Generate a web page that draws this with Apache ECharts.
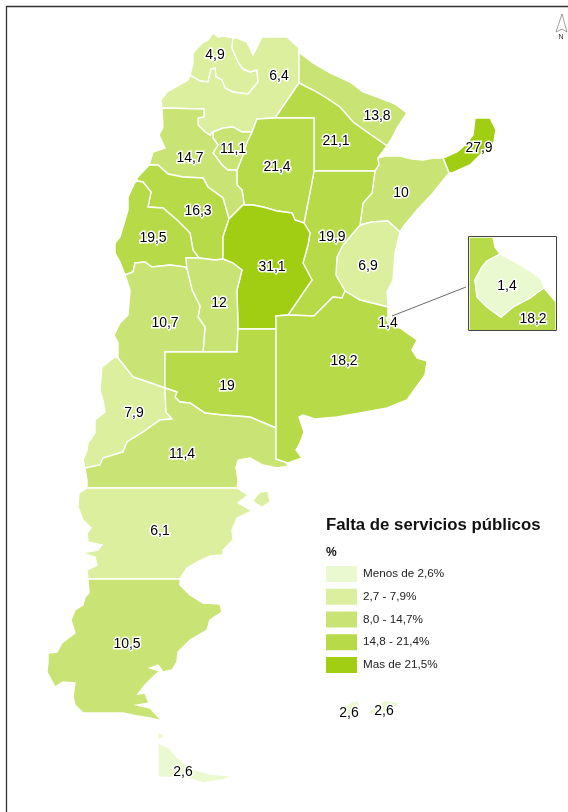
<!DOCTYPE html>
<html>
<head>
<meta charset="utf-8">
<title>Falta de servicios públicos</title>
<script src="https://cdn.jsdelivr.net/npm/echarts@6/dist/echarts.min.js"></script>
<style>
  html, body { margin: 0; padding: 0; background: #fff; }
  #chart { width: 568px; height: 812px; }
</style>
</head>
<body>
<div id="chart"></div>
<script>
// datos del mapa: % por provincia
const provinces = ['Jujuy', 'Salta', 'Formosa', 'Chaco', 'Misiones', 'Corrientes', 'Entre Ríos', 'Santa Fe',
  'Santiago del Estero', 'Tucumán', 'Catamarca', 'La Rioja', 'San Juan', 'Córdoba', 'San Luis', 'Mendoza',
  'La Pampa', 'Neuquén', 'Río Negro', 'Buenos Aires', 'CABA', 'Chubut', 'Santa Cruz', 'Tierra del Fuego',
  'Malvinas Oeste', 'Malvinas Este', 'Buenos Aires (detalle)', 'CABA (detalle)']
const values = [4.9, 6.4, 13.8, 21.1, 27.9, 10, 6.9, 19.9,
  21.4, 11.1, 14.7, 16.3, 19.5, 31.1, 12, 10.7,
  19, 7.9, 11.4, 18.2, 1.4, 6.1, 10.5, 2.6,
  2.6, 2.6, 18.2, 1.4]
const classLabels = ['Menos de 2,6%', '2,7 - 7,9%', '8,0 - 14,7%', '14,8 - 21,4%', 'Mas de 21,5%']
const classUpper = [2.6, 7.9, 14.7, 21.4, 100]
const classColors = ['#EAF9CF', '#DCEF9F', '#C9E374', '#B6DA48', '#A1CE13']

// limites compartidos entre provincias (trazados a mano sobre la imagen)
const rev = (s) => s.slice().reverse()
const jujuySalta = [[233,38],[232,48],[238,62],[243,69],[250,72],[257,70],[258,82],[248,94],[233,92],[225,88],[222,80],[216,77],[215,68],[211,69],[208,82],[200,81],[190,75]]
const saltaChaco = [[299,83],[275,118]]
const saltaSantiago = [[275,118],[257,119],[252,132]]
const saltaTucuman = [[252,132],[242,132],[233,127],[223,128],[213,132]]
const saltaCat = [[213,132],[210,135],[205,132],[198,125],[198,118],[204,117],[204,109],[162,108]]
const catRioja = [[149,165],[158,165],[168,174],[183,177],[203,178],[208,187],[223,198],[229,219]]
const catCordoba = [[229,219],[243,205]]
const catSantiago = [[243,205],[244,203],[242,190],[237,185],[237,170]]
const catTucuman = [[237,170],[228,170],[222,165],[213,153],[218,145],[213,138],[213,132]]
const tucSantiago = [[237,170],[243,155],[247,142],[252,132]]
const santChaco = [[275,118],[314,118],[314,171]]
const santSF = [[314,171],[313,177],[304,223]]
const santCordoba = [[304,223],[295,220],[292,213],[277,211],[263,207],[253,205],[243,205]]
const forChaco = [[387,146],[367,132],[353,122],[340,107],[325,97],[313,90],[299,83]]
const chacoCorr = [[378,158],[379,165],[375,171]]
const chacoSF = [[375,171],[314,171]]
const corrMis = [[443,158],[449,173]]
const corrER = [[400,232],[388,221],[372,222],[360,225]]
const corrSF = [[360,225],[363,203],[372,193],[375,171]]
const erBA = [[388,307],[360,300],[345,291]]
const erSF = [[345,291],[336,275],[337,257],[343,245],[360,225]]
const sfBA = [[345,291],[342,298],[333,297],[314,316],[288,315]]
const sfCordoba = [[288,315],[312,280],[303,263],[308,245],[310,233],[304,223]]
const cordBA = [[288,315],[276,316],[276,329]]
const cordPampa = [[276,329],[238,329]]
const cordSL = [[238,329],[237,290],[242,270],[233,263],[223,259]]
const cordRioja = [[223,259],[223,237],[229,219]]
const riojaSJ = [[137,181],[143,182],[151,192],[148,207],[163,208],[177,220],[190,233],[193,250],[199,258]]
const riojaSL = [[199,258],[215,260],[223,259]]
const sjMend = [[125,275],[133,272],[135,263],[145,262],[152,267],[170,265],[185,267],[187,269]]
const sjSL = [[187,269],[186,258],[199,258]]
const slPampa = [[238,329],[237,352],[203,352]]
const slMend = [[203,352],[205,327],[198,317],[200,306],[192,290],[187,269]]
const mendNeu = [[118,358],[133,377],[148,382],[165,388]]
const mendPampa = [[165,388],[165,352],[203,352]]
const pampaBA = [[276,329],[276,428]]
const pampaRN = [[276,428],[250,417],[223,415],[205,413],[190,403],[180,402],[175,397],[177,392],[165,388]]
const neuRN = [[85,468],[100,465],[103,458],[123,452],[127,442],[143,432],[160,420],[172,419]]
const neuRN2 = [[172,419],[166,412],[165,388]]
const baRN = [[276,428],[276,459]]

// contornos de cada provincia y punto de la etiqueta
const shapes = {
  'Jujuy': { cp: [215,55], rings: [[[190,75],[193,63],[193,53],[202,43],[208,40],[213,33],[218,37],[225,36], ...jujuySalta]] },
  'Salta': { cp: [279,76], rings: [[[233,38],[237,38],[247,42],[253,55],[262,37],[287,37],[299,48], ...saltaChaco, ...saltaSantiago.slice(1), ...saltaTucuman.slice(1), ...saltaCat.slice(1),
    [161,100],[167,92],[188,80], ...rev(jujuySalta)]] },
  'Formosa': { cp: [377,116], rings: [[[299,48],[300,53],[313,63],[330,73],[350,82],[363,92],[380,98],[395,104],[407,113],[397,128],[392,138], ...forChaco]] },
  'Chaco': { cp: [336,141], rings: [[...rev(forChaco), ...chacoCorr, ...chacoSF, ...rev(santChaco), ...rev(saltaChaco)]] },
  'Misiones': { cp: [479,148], rings: [[[443,158],[457,152],[465,145],[473,135],[475,118],[490,118],[496,130],[493,147],[482,153],[470,165],[452,173],[449,173]]] },
  'Corrientes': { cp: [401,193], rings: [[[378,158],[385,156],[400,156],[412,159],[423,160],[433,158], ...corrMis, [433,193],[417,210],[403,227], ...corrER, ...corrSF, ...rev(chacoCorr)]] },
  'Entre Ríos': { cp: [368,266], rings: [[...rev(corrER), [395,253],[393,280],[387,292], ...erBA, ...erSF]] },
  'Santa Fe': { cp: [332,237], rings: [[...rev(chacoSF), ...rev(corrSF), ...rev(erSF), ...sfBA, ...sfCordoba, ...rev(santSF)]] },
  'Santiago del Estero': { cp: [277,167], rings: [[...rev(saltaSantiago), ...santChaco, ...santSF, ...santCordoba, ...catSantiago, ...tucSantiago]] },
  'Tucumán': { cp: [233,149], rings: [[...tucSantiago, ...saltaTucuman, ...rev(catTucuman)]] },
  'Catamarca': { cp: [190,158], rings: [[[162,108],[163,127],[159,135],[165,148],[153,152], ...catRioja, ...catCordoba, ...catSantiago, ...catTucuman, ...saltaCat]] },
  'La Rioja': { cp: [198,211], rings: [[[149,165],[137,178], ...riojaSJ, ...riojaSL, ...cordRioja, ...rev(catRioja)]] },
  'San Juan': { cp: [153,238], rings: [[[137,181],[135,182],[128,197],[128,210],[120,237],[115,243],[115,253],[120,262], ...sjMend, ...sjSL, ...rev(riojaSJ)]] },
  'Córdoba': { cp: [272,267], rings: [[...rev(santCordoba), ...rev(sfCordoba), ...cordBA, ...cordPampa, ...cordSL, ...cordRioja, ...catCordoba]] },
  'San Luis': { cp: [219,303], rings: [[...sjSL, ...riojaSL, ...rev(cordSL), ...slPampa, ...slMend]] },
  'Mendoza': { cp: [165,323], rings: [[...rev(sjMend), [130,290],[128,315],[120,323],[114,335],[118,343], ...mendNeu, ...mendPampa, ...slMend]] },
  'La Pampa': { cp: [227,386], rings: [[...rev(slPampa), ...rev(cordPampa), ...pampaBA, ...pampaRN, ...mendPampa]] },
  'Neuquén': { cp: [134,413], rings: [[[118,358],[115,357],[102,367],[100,390],[103,400],[105,412],[95,420],[95,433],[88,443],[87,450],[83,460], ...neuRN, ...neuRN2, ...rev(mendNeu)]] },
  'Río Negro': { cp: [182,454], rings: [[...neuRN2, ...rev(pampaRN), ...baRN, [285,462],[289,466],[277,468],[263,465],[250,458],[238,460],[236,467],[238,480],[237,488],[87,488],[87,480], ...neuRN]] },
  'Buenos Aires': { cp: [344,361], rings: [[...cordBA, ...pampaBA, ...baRN, [288,463],[302,458],[296,450],[300,443],[304,432],[299,417],[303,415],[315,419],[337,417],[360,413],[387,408],[407,400],[425,375],[427,361],[417,358],[412,350],[417,340],[400,328],[392,325],[388,322], ...erBA, ...sfBA]] },
  'CABA': { cp: [388,323], rings: [[[386,318],[391,316],[393,322],[389,325]]] },
  'Chubut': { cp: [160,531], rings: [
    [[87,488],[237,488],[248,495],[238,503],[252,511],[237,518],[232,530],[233,540],[223,550],[223,555],[210,556],[197,562],[187,568],[180,579],[88,579],[87,570],[97,565],[95,557],[82,553],[98,550],[102,545],[88,542],[87,533],[91,528],[83,520],[78,507],[79,493]],
    [[253,500],[260,492],[268,491],[270,502],[262,507],[255,503]]] },
  'Santa Cruz': { cp: [127,644], rings: [[[88,579],[180,579],[180,585],[190,595],[203,603],[220,604],[222,612],[210,620],[207,630],[190,640],[178,652],[177,662],[172,670],[163,672],[158,665],[150,668],[160,671],[155,675],[145,685],[138,694],[145,693],[149,703],[137,705],[150,708],[162,721],[150,718],[137,716],[123,713],[83,713],[75,705],[73,697],[75,683],[63,682],[55,687],[47,672],[48,662],[48,653],[57,652],[62,643],[75,633],[71,620],[75,610],[83,605],[85,597],[89,593]]] },
  'Tierra del Fuego': { cp: [183,772], rings: [
    [[158,743],[168,747],[177,757],[190,768],[210,774],[233,776],[223,780],[203,783],[187,778],[158,777]],
    [[158,732],[165,736],[158,740]]] },
  'Malvinas Oeste': { cp: [349,713], rings: [[[345,706],[352,702],[358,700],[360,704],[355,708],[360,712],[352,716],[347,720],[338,716],[345,712]]] },
  'Malvinas Este': { cp: [384,711], rings: [[[366,716],[372,708],[380,704],[385,700],[395,702],[402,702],[393,708],[388,712],[380,712],[372,714]]] },
  'Buenos Aires (detalle)': { cp: [533,319], rings: [[[469,237],[493,237],[495,247],[500,254],[487,261],[482,267],[475,280],[477,297],[487,307],[501,317],[513,307],[530,298],[538,292],[544,288],[556,302],[556,331],[469,331]]] },
  'CABA (detalle)': { cp: [507,286], rings: [[[500,254],[487,261],[482,267],[475,280],[477,297],[487,307],[501,317],[513,307],[530,298],[538,292],[544,288],[542,280],[533,273],[517,263]]] }
}

// la imagen va en pixeles, el eje y del geo va hacia arriba
const toGeo = (p) => [p[0], -p[1]]
const geoJson = {
  type: 'FeatureCollection',
  features: provinces.map((name) => ({
    type: 'Feature',
    properties: { name: name, cp: toGeo(shapes[name].cp) },
    geometry: {
      type: 'MultiPolygon',
      coordinates: shapes[name].rings.map((r) => [r.map(toGeo).concat([toGeo(r[0])])])
    }
  }))
}
echarts.registerMap('argentina', geoJson)

const labelFont = '"Liberation Sans", Arial, sans-serif'
const chart = echarts.init(document.getElementById('chart'))
chart.setOption({
  animation: false,
  backgroundColor: '#fff',
  title: [
    {
      text: 'Falta de servicios públicos',
      left: 326, top: 517, padding: 0,
      textStyle: { fontFamily: labelFont, fontSize: 16.8, fontWeight: 'bold', color: '#111' }
    },
    {
      text: '%',
      left: 326, top: 547, padding: 0,
      textStyle: { fontFamily: labelFont, fontSize: 12, fontWeight: 'bold', color: '#111' }
    }
  ],
  visualMap: {
    type: 'piecewise',
    left: 326, top: 566,
    orient: 'vertical',
    align: 'left',
    inverse: true,
    itemWidth: 31, itemHeight: 16, itemGap: 6.75, textGap: 6,
    itemSymbol: 'rect',
    selectedMode: false,
    hoverLink: false,
    padding: 0,
    textStyle: { fontFamily: labelFont, fontSize: 11.7, color: '#222' },
    pieces: classLabels.map((label, i) => ({
      gt: i === 0 ? 0 : classUpper[i - 1],
      lte: classUpper[i],
      label: label,
      color: classColors[i]
    })),
    seriesIndex: 0
  },
  series: [{
    type: 'map',
    map: 'argentina',
    silent: true,
    aspectScale: 1,
    boundingCoords: [[0, 0], [568, -812]],
    left: 0, top: 0, width: 568, height: 812,
    roam: false,
    itemStyle: { borderColor: '#fff', borderWidth: 1.4 },
    label: {
      show: true,
      fontFamily: labelFont,
      fontSize: 14,
      color: '#000',
      textBorderColor: '#fff',
      textBorderWidth: 3,
      formatter: (p) => String(p.value).replace('.', ',')
    },
    data: provinces.map((name, i) => ({ name: name, value: values[i] }))
  }],
  graphic: [
    // marco exterior
    { type: 'polyline', z: 50, shape: { points: [[6.5, 812], [6.5, 6.5], [568, 6.5]] }, style: { stroke: '#333', lineWidth: 1.3, fill: null } },
    // recuadro de CABA y linea guia
    { type: 'rect', z: 50, shape: { x: 468.5, y: 236.5, width: 88, height: 94 }, style: { stroke: '#444', lineWidth: 1, fill: null } },
    { type: 'line', z: 50, shape: { x1: 392, y1: 316, x2: 466, y2: 287 }, style: { stroke: '#444', lineWidth: 0.8 } },
    // flecha del norte
    { type: 'polygon', z: 50, shape: { points: [[562, 14], [556, 32], [562, 29], [567, 32]] }, style: { stroke: '#777', lineWidth: 0.7, fill: '#fff' } },
    { type: 'text', z: 50, x: 558.5, y: 34, style: { text: 'N', fontFamily: labelFont, fontSize: 7, fill: '#333' } }
  ]
})
</script>
</body>
</html>
